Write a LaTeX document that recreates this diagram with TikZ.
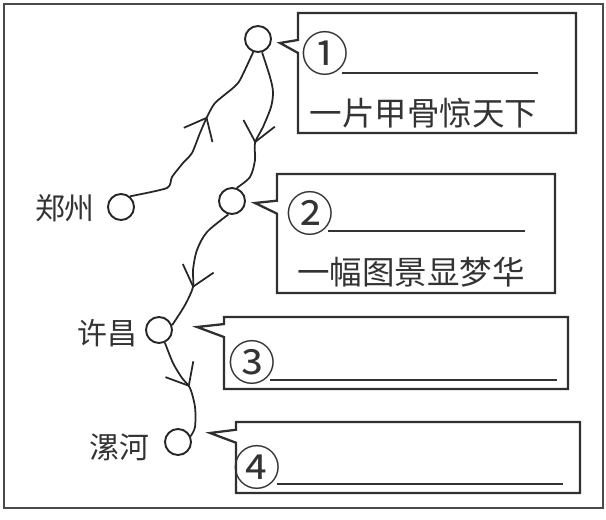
\documentclass[tikz,border=0pt]{standalone}
\usepackage{fontspec}
\newfontfamily\cjk{Noto Sans CJK SC}
\usetikzlibrary{arrows.meta,decorations.markings,shapes.callouts}

\begin{document}
\begin{tikzpicture}[x=0.02cm, y=-0.02cm,
    stop/.style={circle, draw=lineColour, line width=1.1pt, minimum size=0.52cm, inner sep=0},
    place/.style={font=\cjk\fontsize{17pt}{19pt}\selectfont, text=textColour, inner sep=0},
    note/.style={font=\cjk\fontsize{18.5pt}{20pt}\selectfont, text=textColour, inner sep=0},
    num/.style={font=\cjk\fontsize{27pt}{29pt}\selectfont, text=textColour, inner sep=0},
    callbox/.style={rectangle callout, draw=boxColour, line width=1.3pt, inner sep=0, callout pointer width=0.26cm},
    rule/.style={draw=textColour, line width=0.7pt},
    route/.style={draw=lineColour, line width=1pt, postaction={decorate},
        decoration={markings, mark=at position #1 with {\arrow{Straight Barb[length=0.38cm, width=0.64cm]}}}}]
    % Define colours
    \definecolor{lineColour}{HTML}{262626}
    \definecolor{boxColour}{HTML}{303030}
    \definecolor{textColour}{HTML}{333333}
    \definecolor{frameColour}{HTML}{4A4A4A}

    % Fix the page size
    \useasboundingbox (0,0) rectangle (606,520);

    % Draw outer frame
    \draw[frameColour, line width=0.85pt] (4,4) rectangle (603,508);

    % Draw the stops on the route
    \foreach \name/\pos in {zz/{(121,207)}, c1/{(258,39)}, c2/{(232,201)}, xc/{(159,330)}, lh/{(178,442)}}
        \node[stop] (\name) at \pos {};

    % Label the cities
    \node[place] (zzname) at (65,208) {郑州};
    \node[place] (xcname) at (107,333) {许昌};
    \node[place] (lhname) at (119,447) {漯河};

    % Draw the route with arrows
    \path[route=0.6] plot[smooth, tension=0.4] coordinates {(zz.50) (167,188) (172,177) (183,163) (192,153) (200,133) (207,117) (215,103) (233,88) (240,80) (c1.250)};
    \path[route=0.65] plot[smooth, tension=0.5] coordinates {(c1.287) (270,77) (273,92) (271,107) (263,127) (255,143) (255,160) (250,177) (c2.70)};
    \path[route=0.67] plot[smooth, tension=0.5] coordinates {(c2.255) (207,232) (197,250) (193,270) (193,287) (185,305) (xc.20)};
    \path[route=0.5] plot[smooth, tension=0.5] coordinates {(xc.295) (173,363) (182,378) (190,388) (195,407) (195,427) (lh.25)};

    % Define the tips of the call-outs
    \coordinate (tip1) at (280,43);
    \coordinate (tip2) at (255,203);
    \coordinate (tip3) at (197,327);
    \coordinate (tip4) at (210,433);

    % Draw the call-out boxes
    \node[callbox, minimum width=5.56cm, minimum height=2.4cm, callout absolute pointer={(tip1)}] (box1) at (437,73) {};
    \node[callbox, minimum width=5.56cm, minimum height=2.38cm, callout absolute pointer={(tip2)}] (box2) at (416,233.5) {};
    \node[callbox, minimum width=6.88cm, minimum height=1.44cm, callout absolute pointer={(tip3)}] (box3) at (396,353) {};
    \node[callbox, minimum width=6.88cm, minimum height=1.42cm, callout absolute pointer={(tip4)}] (box4) at (408,457.5) {};

    % Fill in the boxes
    \node[num] (num1) at (325,53) {①};
    \draw[rule] (342,73) -- (538,73);
    \node[note] (line1) at (423.5,113) {一片甲骨惊天下};

    \node[num] (num2) at (310,213) {②};
    \draw[rule] (328,231) -- (525,231);
    \node[note] (line2) at (411,272) {一幅图景显梦华};

    \node[num] (num3) at (252,362) {③};
    \draw[rule] (270,380) -- (557,380);

    \node[num] (num4) at (257,467) {④};
    \draw[rule] (277,484) -- (563,484);

\end{tikzpicture}
\end{document}
